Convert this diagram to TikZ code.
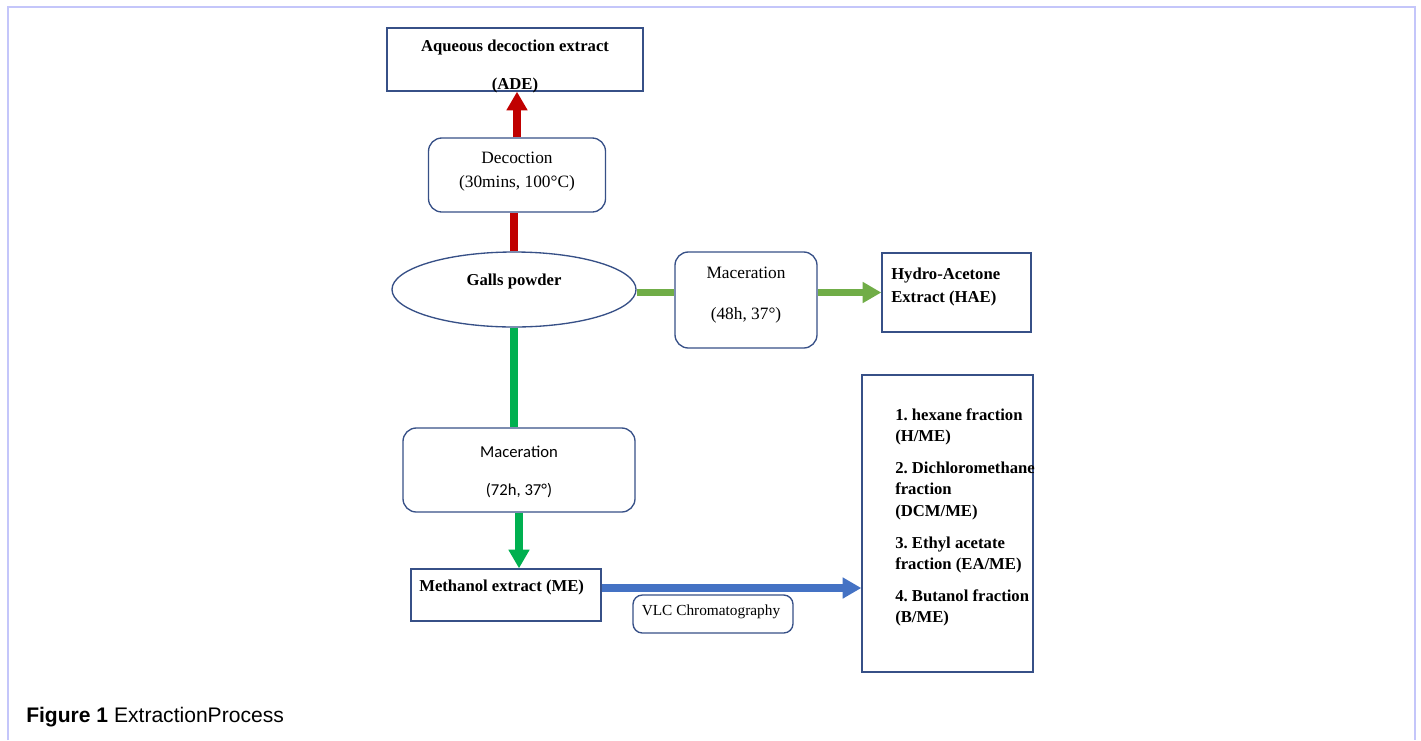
\documentclass[tikz,border=0pt]{standalone}
\usepackage{fontspec}
\setmainfont{Liberation Serif}
\newfontfamily\capfont{Liberation Sans}
\newfontfamily\calfont{Carlito}
\usetikzlibrary{arrows.meta,shapes.geometric}
\definecolor{boxblue}{RGB}{55,80,135}
\definecolor{framecol}{RGB}{196,198,250}
\definecolor{redflow}{RGB}{192,0,0}
\definecolor{greenflow}{RGB}{0,176,80}
\definecolor{limeflow}{RGB}{112,173,71}
\definecolor{blueflow}{RGB}{68,114,196}
\frenchspacing
\begin{document}
\begin{tikzpicture}[x=0.75pt,y=-0.75pt,
  box/.style={draw=boxblue, line width=1pt, fill=white, inner sep=0pt},
  rbox/.style={box, rounded corners=10pt},
  txt/.style={font=\fontsize{13}{16}\selectfont, inner sep=0pt},
  btxt/.style={font=\fontsize{12.5}{16}\selectfont\bfseries, inner sep=0pt},
  ctxt/.style={font=\calfont\fontsize{12.5}{16}\selectfont, inner sep=0pt},
  flow/.style={line width=5.5pt},
  tip/.style={-{Triangle[length=14pt,width=15pt]}},
  frame/.style={draw=framecol, line width=1.5pt}
]
\useasboundingbox (0,0) rectangle (1421,740);
\draw[frame] (8,740) -- (8,7) -- (1415,7) -- (1415,740);

% boxes
\node[box, minimum width=192pt, minimum height=47.25pt] (ade) at (515,59.5) {};
\node[rbox, minimum width=132.75pt, minimum height=55.5pt] (dec) at (517,175) {};
\node[box, ellipse, minimum width=183pt, minimum height=56.25pt] (gp) at (514,289.5) {};
\node[rbox, minimum width=106.5pt, minimum height=72pt] (mac1) at (746,300) {};
\node[box, minimum width=111.75pt, minimum height=59.25pt] (hae) at (956.5,292.5) {};
\node[rbox, minimum width=174pt, minimum height=63pt] (mac2) at (519,470) {};
\node[box, minimum width=142.5pt, minimum height=39pt] (me) at (506,595) {};
\node[rbox, rounded corners=7pt, minimum width=120pt, minimum height=28.5pt] (vlc) at (713,614) {};
\node[box, minimum width=128.25pt, minimum height=222.75pt] (frac) at (947.5,523.5) {};

% connectors
\draw[flow, redflow] (gp.north) -- (gp.north |- dec.south);
\draw[flow, redflow, tip] (dec.north) -- (dec.north |- ade.south);
\draw[flow, limeflow] ([yshift=-2pt]gp.east) -- ([yshift=-2pt]gp.east -| mac1.west);
\draw[flow, limeflow, tip] (mac1.east |- hae.west) -- (hae.west);
\draw[flow, greenflow] (gp.south) -- (gp.south |- mac2.north);
\draw[flow, greenflow, tip] (mac2.south) -- (mac2.south |- me.north);
\draw[flow, blueflow, tip] ([yshift=5.25pt]me.east) -- ([yshift=5.25pt]me.east -| frac.west);

% texts
\node[btxt] (adet1) at (515,47) {Aqueous decoction extract};
\node[btxt] (adet2) at (515,85) {(ADE)};
\node[txt] (dect1) at (517,158) {Decoction};
\node[txt] (dect2) at (517,183) {(30mins, 100°C)};
\node[btxt] (gpt) at (514,281) {Galls powder};
\node[txt] (mac1t1) at (746,273) {Maceration};
\node[txt] (mac1t2) at (746,315) {(48h, 37°)};
\node[btxt, anchor=west] (haet1) at (891,276) {Hydro-Acetone};
\node[btxt, anchor=west] (haet2) at (891,298) {Extract (HAE)};
\node[ctxt] (mac2t1) at (519,452) {Maceration};
\node[ctxt] (mac2t2) at (519,491) {(72h, 37°)};
\node[btxt, anchor=west] (met) at (419,587) {Methanol extract (ME)};
\node[txt, font=\fontsize{11.5}{14}\selectfont] (vlct) at (711,612) {VLC Chromatography};
\node[btxt, anchor=north west, align=left] (fract) at (895,408)
  {1. hexane fraction\\(H/ME)\\[8pt]
   2. Dichloromethane\\fraction\\(DCM/ME)\\[8pt]
   3. Ethyl acetate\\fraction (EA/ME)\\[8pt]
   4. Butanol fraction\\(B/ME)};

% caption
\node[anchor=base west, inner sep=0pt, font=\capfont\fontsize{15.8}{19}\selectfont] (cap) at (26,722)
  {\textbf{Figure 1} ExtractionProcess};
\end{tikzpicture}
\end{document}
